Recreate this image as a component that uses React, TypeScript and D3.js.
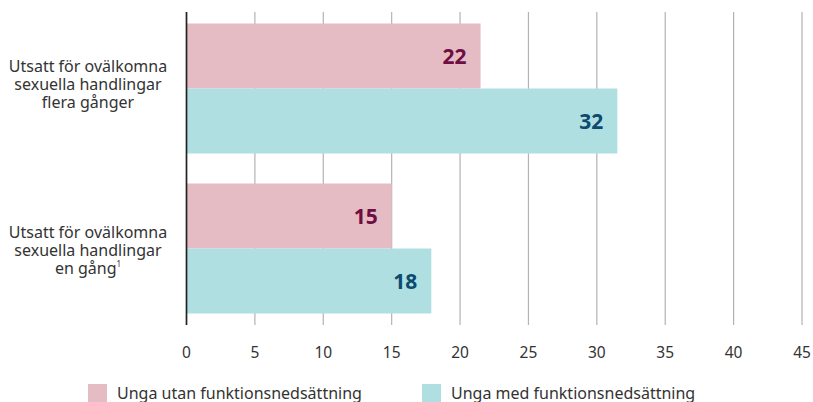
import { useEffect, useRef } from "react";
import * as d3 from "d3";

const categories = [
  ["Utsatt för ovälkomna", "sexuella handlingar", "flera gånger"],
  ["Utsatt för ovälkomna", "sexuella handlingar", "en gång"],
];
const footnotes = ["", "1"];
const seriesNames = ["Unga utan funktionsnedsättning", "Unga med funktionsnedsättning"];
const utanValues = [21.5, 15.0];
const medValues = [31.5, 17.9];
const xTicks = [0, 5, 10, 15, 20, 25, 30, 35, 40, 45];

const fills = ["#e5bcc3", "#b0dfe1"];
const labelColors = ["#6e0e42", "#0c4a6e"];
const font = "'Noto Sans', 'Open Sans', sans-serif";

export default function App() {
  const ref = useRef<SVGSVGElement | null>(null);
  const width = 813;
  const height = 402;

  useEffect(() => {
    if (!ref.current) return;
    const svg = d3.select(ref.current);
    svg.selectAll("*").remove();

    const x = d3.scaleLinear().domain([0, 45]).range([186.5, 802]);
    const yGroup = d3.scaleBand<number>().domain([0, 1]).range([8.5, 328.5]).paddingInner(0.1875).paddingOuter(0.09375);
    const ySeries = d3.scaleBand<number>().domain([0, 1]).range([0, yGroup.bandwidth()]);

    // grid
    svg.append("g")
      .selectAll("line")
      .data(xTicks.filter((t) => t > 0))
      .join("line")
      .attr("x1", (d) => x(d))
      .attr("x2", (d) => x(d))
      .attr("y1", 12)
      .attr("y2", 325)
      .attr("stroke", "#b3b3b3")
      .attr("stroke-width", 1.2);

    // bars
    const series = [utanValues, medValues];
    const textShift = [1, 7];
    categories.forEach((_, ci) => {
      const g = svg.append("g").attr("transform", `translate(0,${yGroup(ci)})`);
      series.forEach((vals, si) => {
        const v = vals[ci];
        g.append("rect")
          .attr("x", x(0))
          .attr("y", ySeries(si)!)
          .attr("width", x(v) - x(0))
          .attr("height", ySeries.bandwidth())
          .attr("fill", fills[si]);
        g.append("text")
          .attr("x", x(v) - 14)
          .attr("y", ySeries(si)! + ySeries.bandwidth() / 2)
          .attr("dy", "0.36em")
          .attr("text-anchor", "end")
          .attr("font-family", font)
          .attr("font-weight", 700)
          .attr("font-size", 21)
          .attr("fill", labelColors[si])
          .text(Math.round(v));
      });

      // category label, one text per line
      const lines = categories[ci];
      const cy = yGroup(ci)! + yGroup.bandwidth() / 2;
      lines.forEach((ln, li) => {
        const t = svg.append("text")
          .attr("x", 88)
          .attr("y", cy + (li - 1) * 18 + textShift[ci])
          .attr("text-anchor", "middle")
          .attr("font-family", font)
          .attr("font-size", 16)
          .attr("fill", "#333")
          .text(ln);
        if (li === lines.length - 1 && footnotes[ci]) {
          t.append("tspan").attr("font-size", 8).attr("dy", -7).text(footnotes[ci]);
        }
      });
    });

    // zero axis
    svg.append("line")
      .attr("x1", x(0))
      .attr("x2", x(0))
      .attr("y1", 12)
      .attr("y2", 325)
      .attr("stroke", "#222")
      .attr("stroke-width", 1.7);

    // tick labels
    svg.append("g")
      .selectAll("text")
      .data(xTicks)
      .join("text")
      .attr("x", (d) => x(d))
      .attr("y", 358)
      .attr("text-anchor", "middle")
      .attr("font-family", font)
      .attr("font-size", 15.5)
      .attr("fill", "#333")
      .text((d) => d);

    // legend
    const legendX = [88, 422];
    seriesNames.forEach((name, i) => {
      svg.append("rect")
        .attr("x", legendX[i])
        .attr("y", 384)
        .attr("width", 19)
        .attr("height", 19)
        .attr("fill", fills[i]);
      svg.append("text")
        .attr("x", legendX[i] + 29)
        .attr("y", 398.5)
        .attr("font-family", font)
        .attr("font-size", 16)
        .attr("fill", "#333")
        .text(name);
    });
  }, []);

  return (
    <svg
      ref={ref}
      width={width}
      height={height}
      style={{ position: "absolute", left: 0, top: 0 }}
    />
  );
}
